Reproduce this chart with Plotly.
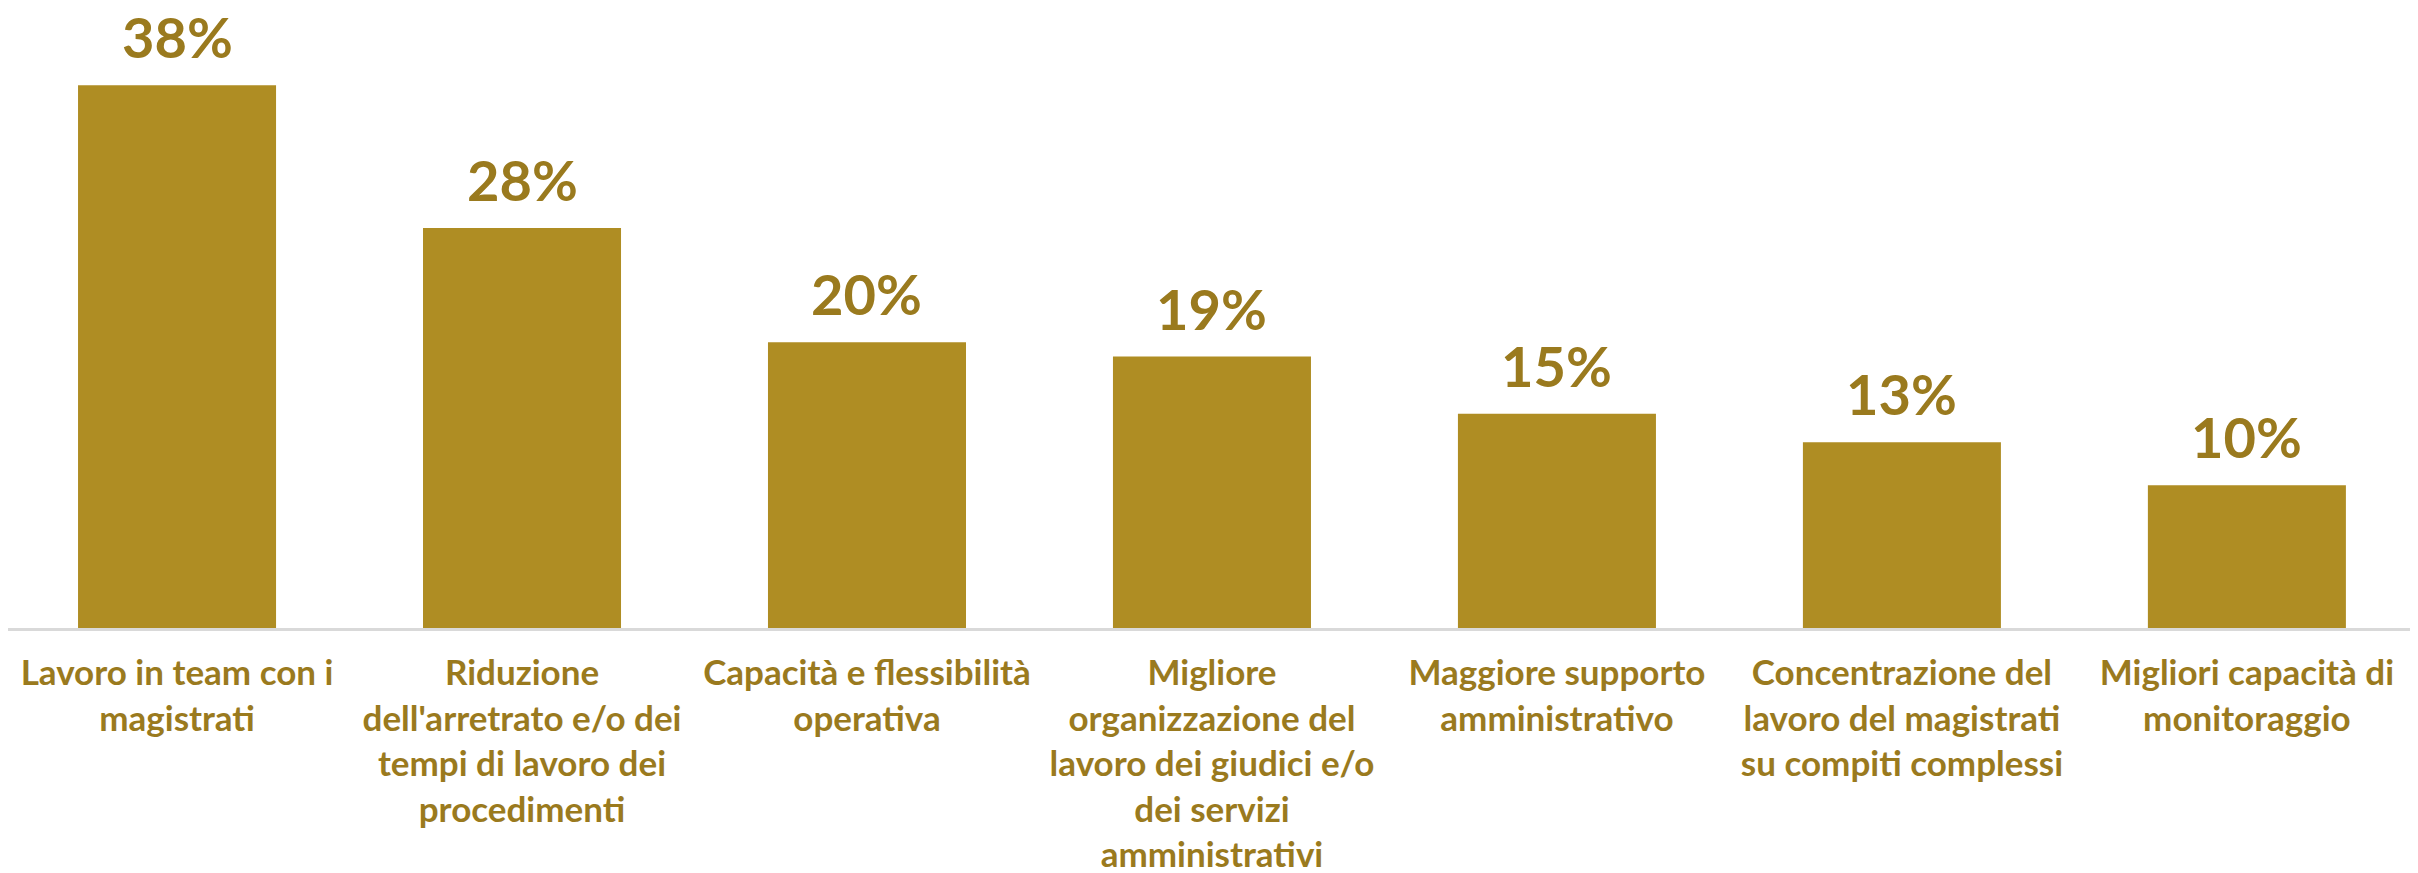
import plotly.graph_objects as go

# Survey answers (share of respondents)
categories = [
    "Lavoro in team con i<br>magistrati",
    "Riduzione<br>dell'arretrato e/o dei<br>tempi di lavoro dei<br>procedimenti",
    "Capacità e flessibilità<br>operativa",
    "Migliore<br>organizzazione del<br>lavoro dei giudici e/o<br>dei servizi<br>amministrativi",
    "Maggiore supporto<br>amministrativo",
    "Concentrazione del<br>lavoro del magistrati<br>su compiti complessi",
    "Migliori capacità di<br>monitoraggio",
]
values = [38, 28, 20, 19, 15, 13, 10]
value_labels = ["38%", "28%", "20%", "19%", "15%", "13%", "10%"]

bar_colour = "#AF8D23"
text_colour = "#9A7A1E"
font_family = "Lato"

fig = go.Figure()
fig.add_trace(go.Bar(
    x=list(range(len(categories))),
    y=values,
    marker=dict(color=bar_colour, line=dict(width=0)),
    hoverinfo="skip",
))

# value labels above bars
for i, (val, lab) in enumerate(zip(values, value_labels)):
    fig.add_annotation(
        x=i, y=val, text="<b>" + lab + "</b>",
        showarrow=False, yanchor="bottom", yshift=14, borderpad=0,
        font=dict(family=font_family, size=56, color=text_colour),
    )

# page body has an 8px margin, so the figure is a bit smaller than the window
fig.update_layout(
    width=2410,
    height=865,
    margin=dict(l=0, r=0, t=0, b=245),
    paper_bgcolor="white",
    plot_bgcolor="white",
    bargap=0.426,
    showlegend=False,
    font=dict(family=font_family, color=text_colour),
)
fig.update_xaxes(
    tickmode="array", tickvals=list(range(len(categories))), ticktext=categories,
    range=[-0.49, 6.496],
    showline=True, linecolor="#D9D9D9", linewidth=3,
    showgrid=False, zeroline=False, ticks="", ticklabelstandoff=12,
    tickfont=dict(family=font_family, size=35, color=text_colour, weight="bold"),
)
fig.update_yaxes(visible=False, range=[0, 43.4], showgrid=False, zeroline=False)

fig.write_html("out.html")
